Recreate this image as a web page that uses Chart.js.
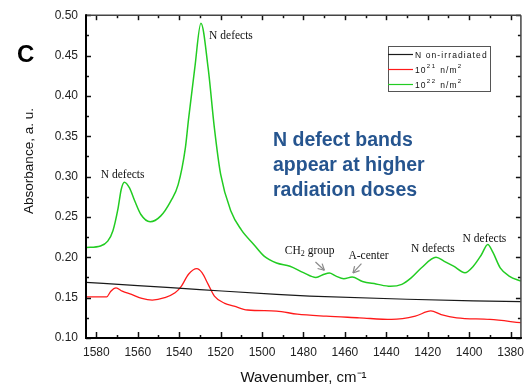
<!DOCTYPE html>
<html>
<head>
<meta charset="utf-8">
<script src="https://cdn.jsdelivr.net/npm/chart.js@4.4.1/dist/chart.umd.min.js"></script>
<style>
  body { margin: 0; background: #fff; }
</style>
</head>
<body>
<canvas id="spectra" width="531" height="385"></canvas>
<script>
// Tick labels
const xTicks = [1580, 1560, 1540, 1520, 1500, 1480, 1460, 1440, 1420, 1400, 1380];
const yTicks = [0.10, 0.15, 0.20, 0.25, 0.30, 0.35, 0.40, 0.45, 0.50];

const seriesLabels = ['N on-irradiated', '10²¹ n/m²', '10²² n/m²'];

// Non-irradiated (black)
const refWn  = [1585, 1560, 1530, 1493, 1477, 1430, 1398, 1375];
const refAbs = [0.169, 0.165, 0.160, 0.154, 0.152, 0.148, 0.146, 0.145];

// 10^21 n/m^2 (red)
const lowWn  = [1585, 1575, 1573, 1570.5, 1567.5, 1563, 1558, 1553, 1547, 1542, 1539, 1535.5, 1531.5, 1529, 1526, 1523,
                1518, 1513.5, 1507, 1493, 1483, 1469, 1453, 1437.5, 1426, 1418.5, 1413.5, 1406, 1390, 1375];
const lowAbs = [0.151, 0.151, 0.158, 0.162, 0.158, 0.154, 0.149, 0.147, 0.150, 0.156, 0.164, 0.179, 0.186, 0.181, 0.1665, 0.152,
                0.143, 0.1395, 0.1347, 0.1334, 0.1295, 0.127, 0.125, 0.123, 0.127, 0.1335, 0.129, 0.125, 0.123, 0.119];

// 10^22 n/m^2 (green)
const highWn  = [1585, 1578, 1574.5, 1572, 1569.5, 1568, 1566.5, 1564, 1561.5, 1558.5, 1554, 1549, 1544, 1540.5, 1537, 1535.5,
                 1532.5, 1529.5, 1526, 1523, 1520, 1515, 1510, 1504, 1499, 1493, 1486.5, 1480, 1474, 1470, 1467.5, 1464.5,
                 1460.5, 1456.5, 1451.5, 1445, 1438, 1432.5, 1428, 1423, 1416, 1412, 1407.5, 1402, 1398, 1394, 1391,
                 1388.5, 1385, 1380.5, 1375];
const highAbs = [0.212, 0.214, 0.220, 0.233, 0.261, 0.284, 0.293, 0.286, 0.270, 0.253, 0.244, 0.251, 0.270, 0.290, 0.336, 0.371,
                 0.434, 0.490, 0.434, 0.360, 0.303, 0.257, 0.234, 0.216, 0.2015, 0.193, 0.189, 0.181, 0.175, 0.179, 0.1805, 0.177,
                 0.1735, 0.1755, 0.170, 0.167, 0.164, 0.1665, 0.1745, 0.187, 0.200, 0.195, 0.189, 0.181, 0.189, 0.2035, 0.216,
                 0.206, 0.187, 0.1765, 0.1705];

// Peak labels, anchored in data units (wavenumber, absorbance)
const peakNotes = [
  { text: 'N defects', wn: 1567.3, abs: 0.2988 },
  { text: 'N defects', wn: 1515.0, abs: 0.4704 },
  { text: 'N defects', wn: 1417.5, abs: 0.2062 },
  { text: 'N defects', wn: 1392.6, abs: 0.2185 }
];

const toPoints = (xs, ys) => xs.map((v, i) => ({ x: v, y: ys[i] }));
const SUP = { '¹': '1', '²': '2' };

const decor = {
  id: 'decor',
  afterDraw(chart) {
    const { ctx, chartArea: a, scales: { x, y } } = chart;
    ctx.save();

    // ticks pointing inwards on all four sides
    const line = (x1, y1, x2, y2) => { ctx.beginPath(); ctx.moveTo(x1, y1); ctx.lineTo(x2, y2); ctx.stroke(); };
    const xMinor = xTicks.map(v => v + 10).concat([xTicks[xTicks.length - 1] - 10]).filter(v => v > x.min && v < x.max);
    const yMinor = yTicks.slice(1).map(v => v - 0.025);
    ctx.strokeStyle = '#111';
    ctx.lineWidth = 1.5;
    xTicks.forEach(v => {
      const px = Math.round(x.getPixelForValue(v)) + 0.5;
      line(px, a.bottom, px, a.bottom - 6);
      line(px, a.top, px, a.top + 5);
    });
    xMinor.forEach(v => {
      const px = Math.round(x.getPixelForValue(v)) + 0.5;
      line(px, a.bottom, px, a.bottom - 3);
      line(px, a.top, px, a.top + 3);
    });
    yTicks.forEach(v => {
      const py = Math.round(y.getPixelForValue(v)) + 0.5;
      line(a.left, py, a.left + 5, py);
      line(a.right, py, a.right - 5, py);
    });
    yMinor.forEach(v => {
      const py = Math.round(y.getPixelForValue(v)) + 0.5;
      line(a.left, py, a.left + 3, py);
      line(a.right, py, a.right - 3, py);
    });

    // frame
    ctx.strokeStyle = '#444';
    ctx.lineWidth = 1.5;
    line(a.left, a.top, a.right, a.top);
    line(a.right, a.top, a.right, a.bottom);
    ctx.strokeStyle = '#000';
    ctx.lineWidth = 2;
    line(a.left, a.top - 1, a.left, a.bottom + 1);
    line(a.left - 1, a.bottom, a.right + 1, a.bottom);

    // y axis title (sits a little above the axis middle in the original)
    ctx.save();
    ctx.translate(29.5, 161);
    ctx.rotate(-Math.PI / 2);
    ctx.fillStyle = '#111';
    ctx.font = '13.5px "Liberation Sans", Arial, sans-serif';
    ctx.textAlign = 'center';
    ctx.textBaseline = 'middle';
    ctx.fillText('Absorbance, a. u.', 0, 0);
    ctx.restore();

    // peak labels
    ctx.fillStyle = '#111';
    ctx.font = '11.5px "Liberation Serif", serif';
    ctx.textAlign = 'center';
    ctx.textBaseline = 'alphabetic';
    peakNotes.forEach(n => ctx.fillText(n.text, x.getPixelForValue(n.wn), y.getPixelForValue(n.abs)));

    // CH2 group and A-center with arrows
    ctx.textAlign = 'left';
    let cx = x.getPixelForValue(1489.0), cy = y.getPixelForValue(0.2037);
    ctx.fillText('CH', cx, cy);
    cx += ctx.measureText('CH').width;
    ctx.font = '8px "Liberation Serif", serif';
    ctx.fillText('2', cx, cy + 2);
    cx += ctx.measureText('2').width;
    ctx.font = '11.5px "Liberation Serif", serif';
    ctx.fillText(' group', cx, cy);
    ctx.fillText('A-center', x.getPixelForValue(1458.3), y.getPixelForValue(0.1975));

    const arrow = (w1, a1, w2, a2) => {
      const x1 = x.getPixelForValue(w1), y1 = y.getPixelForValue(a1);
      const x2 = x.getPixelForValue(w2), y2 = y.getPixelForValue(a2);
      const ang = Math.atan2(y2 - y1, x2 - x1);
      ctx.strokeStyle = '#8a8a8a';
      ctx.lineWidth = 1.2;
      line(x1, y1, x2, y2);
      [0.5, -0.5].forEach(d => line(x2, y2, x2 - 7 * Math.cos(ang + d), y2 - 7 * Math.sin(ang + d)));
    };
    arrow(1474.2, 0.1942, 1469.9, 0.1840);
    arrow(1452.0, 0.1922, 1456.1, 0.1806);

    // panel letter
    ctx.fillStyle = '#000';
    ctx.font = 'bold 24px "Liberation Sans", Arial, sans-serif';
    ctx.fillText('C', 17, 62);

    // blue note
    ctx.fillStyle = '#26558f';
    ctx.font = 'bold 19.5px "Liberation Sans", Arial, sans-serif';
    ['N defect bands', 'appear at higher', 'radiation doses'].forEach((t, i) => ctx.fillText(t, 273, 145.5 + i * 25));

    // legend box
    const lx = 388, ly = 46, lw = 102, lh = 45;
    ctx.fillStyle = '#fff';
    ctx.fillRect(lx, ly, lw, lh);
    ctx.strokeStyle = '#555';
    ctx.lineWidth = 1;
    ctx.strokeRect(lx + 0.5, ly + 0.5, lw, lh);
    ctx.letterSpacing = '1.1px';
    ctx.textBaseline = 'alphabetic';
    chart.data.datasets.forEach((ds, i) => {
      const ry = ly + 8.5 + i * 15;
      ctx.strokeStyle = ds.borderColor;
      ctx.lineWidth = 1.2;
      line(lx, ry, lx + 25, ry);
      ctx.fillStyle = '#111';
      // superscript characters drawn as small raised digits
      let tx = lx + 27;
      for (const ch of ds.label) {
        const sup = SUP[ch];
        ctx.font = (sup ? '6px' : '8.5px') + ' "Liberation Sans", Arial, sans-serif';
        const s = sup || ch;
        ctx.fillText(s, tx, ry + (sup ? -1.5 : 3));
        tx += ctx.measureText(s).width + (sup ? 0.6 : 0);
      }
    });
    ctx.restore();
  }
};

new Chart(document.getElementById('spectra'), {
  type: 'line',
  data: {
    datasets: [
      { label: seriesLabels[0], data: toPoints(refWn, refAbs), borderColor: '#1a1a1a', borderWidth: 1.2 },
      { label: seriesLabels[1], data: toPoints(lowWn, lowAbs), borderColor: '#ff1a1a', borderWidth: 1.3 },
      { label: seriesLabels[2], data: toPoints(highWn, highAbs), borderColor: '#22cc22', borderWidth: 1.5 }
    ]
  },
  options: {
    responsive: false,
    devicePixelRatio: 1,
    animation: false,
    layout: { padding: { left: 0, right: 4, top: 14, bottom: 0 } },
    elements: {
      point: { radius: 0 },
      line: { cubicInterpolationMode: 'monotone', fill: false }
    },
    plugins: { legend: { display: false }, tooltip: { enabled: false } },
    scales: {
      x: {
        type: 'linear',
        reverse: true,
        min: 1375,
        max: 1585,
        afterBuildTicks: s => { s.ticks = xTicks.map(v => ({ value: v })); },
        afterFit: s => { s.height = 47; },
        grid: { display: false, drawTicks: false },
        border: { display: false },
        ticks: {
          padding: 7,
          color: '#222',
          font: { family: '"Liberation Sans", Arial', size: 12 },
          callback: v => String(v)
        },
        title: {
          display: true,
          text: 'Wavenumber, cm⁻¹',
          color: '#111',
          padding: { top: 0, bottom: -2 },
          font: { family: '"Liberation Sans", Arial', size: 15 }
        }
      },
      y: {
        min: 0.10,
        max: 0.50,
        afterBuildTicks: s => { s.ticks = yTicks.map(v => ({ value: v })); },
        afterFit: s => { s.width = 86; },
        grid: { display: false, drawTicks: false },
        border: { display: false },
        ticks: {
          padding: 8,
          color: '#222',
          font: { family: '"Liberation Sans", Arial', size: 12 },
          callback: v => v.toFixed(2)
        }
      }
    }
  },
  plugins: [decor]
});
</script>
</body>
</html>
